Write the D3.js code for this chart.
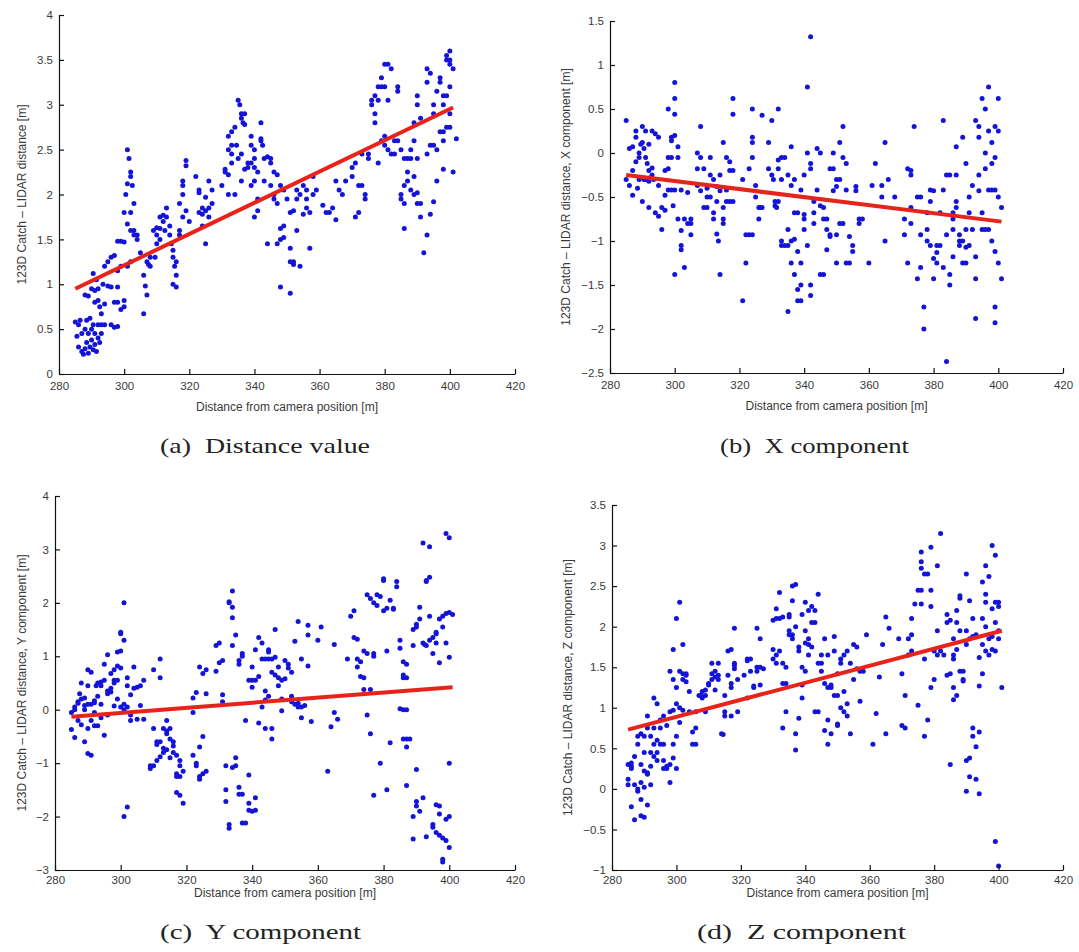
<!DOCTYPE html>
<html>
<head>
<meta charset="utf-8">
<script src="https://cdn.jsdelivr.net/npm/d3@7"></script>
<style>
  html, body { margin: 0; padding: 0; background: #fff; }
  svg { display: block; }
  .axis path, .axis line { stroke: #111; stroke-width: 1.2; }
  .axis .tick text { font-family: "Liberation Sans", Arial, sans-serif; font-size: 11.5px; fill: #3a3a3a; }
  .axis-label { font-family: "Liberation Sans", Arial, sans-serif; font-size: 12px; fill: #3a3a3a; }
  .caption { font-family: "Liberation Serif", serif; font-size: 22px; fill: #222; }
</style>
</head>
<body>
<svg id="chart" width="1079" height="952"></svg>
<script>
// shared x axis
const xDomain = [280, 420];
const xTicks = [280, 300, 320, 340, 360, 380, 400, 420];
const xLabel = 'Distance from camera position [m]';

// y ticks per panel
const yTicksDistance = [0, 0.5, 1, 1.5, 2, 2.5, 3, 3.5, 4];
const yTicksX = [-2.5, -2, -1.5, -1, -0.5, 0, 0.5, 1, 1.5];
const yTicksY = [-3, -2, -1, 0, 1, 2, 3, 4];
const yTicksZ = [-1, -0.5, 0, 0.5, 1, 1.5, 2, 2.5, 3, 3.5];

const captions = ['(a)  Distance value', '(b)  X component', '(c)  Y component', '(d)  Z component'];
const yLabels = [
    '123D Catch \u2013 LIDAR distance [m]',
    '123D Catch \u2013 LIDAR distance, X component [m]',
    '123D Catch \u2013 LIDAR distance, Y component [m]',
    '123D Catch \u2013 LIDAR distance, Z component [m]'
];

// linear fits (start / end)
const fitDistance = [[285, 0.95], [401, 2.97]];
const fitX = [[285, -0.25], [401, -0.78]];
const fitY = [[285, -0.13], [401, 0.42]];
const fitZ = [[285, 0.73], [401, 1.95]];

// [distance from camera, difference]
const distanceValue = [
    [285,0.58],[285.5,0.42],[286,0.55],[286,0.3],[286.5,0.6],[287,0.25],[287,0.45],[287.5,0.22],[288,0.28],[288,0.5],
    [288.5,0.6],[288.5,0.35],[289,0.23],[289,0.45],[289.5,0.62],[289.5,0.3],[290,0.5],[290,0.38],[290.5,0.27],[290.5,0.55],
    [291,0.45],[291,0.33],[291.5,0.25],[292,0.4],[292,0.55],[292.5,0.35],[293,0.45],[293,0.55],[289,0.87],[290,0.95],
    [290.5,1.12],[291,0.8],[291.5,1.05],[292,0.95],[292.5,0.75],[293,0.67],[293.5,1.0],[294,0.55],[288,0.88],[291,0.93],
    [292,0.82],[294,1.2],[295,1.25],[296,1.3],[297,1.32],[295,0.98],[296,0.97],[294,0.78],[297,0.8],[298,0.8],
    [296,0.55],[297,0.52],[298,0.53],[298,1.48],[299,1.48],[300,1.47],[298,1.15],[299,1.2],[300,0.75],[299,0.72],
    [300,0.82],[298,0.97],[300,1.8],[300.5,2.0],[301,2.12],[301,2.5],[301.5,2.4],[302,2.25],[302,2.2],[302.5,2.1],
    [302,1.8],[303,1.9],[301,1.67],[302,1.6],[303,1.55],[304,1.55],[304,1.5],[303,1.6],[305,1.35],[301,1.2],
    [302,1.25],[306,1.1],[306.5,0.98],[307,0.88],[306,0.67],[307,1.25],[308,1.2],[308,1.3],[307.5,1.22],[309,1.6],
    [310,1.63],[310,1.55],[311,1.5],[311,1.75],[312,1.77],[312,1.7],[313,1.75],[310,1.45],[309.5,1.3],[311,1.62],
    [312.5,1.6],[313,1.85],[314,1.65],[314,1.55],[315,1.38],[315,1.3],[315.5,1.2],[316,1.1],[315,1.0],[316,0.97],
    [316,1.25],[314.5,1.45],[317,1.6],[317,1.55],[317,1.9],[318,2.1],[318,2.15],[318,2.0],[319,2.38],[319,2.32],
    [318,1.75],[319,1.82],[320,1.7],[322,2.2],[323,2.05],[323,2.02],[323,1.8],[324,1.78],[324,1.65],[325,1.45],
    [325,1.97],[326,1.85],[326,2.15],[327,2.05],[327,1.9],[326,1.75],[325,1.82],[324,1.85],[330,2.1],[331,2.25],
    [332,2.22],[332,2.5],[332,2.65],[333,2.7],[333,2.55],[333,2.45],[333,2.35],[332,2.0],[334,2.75],[334,2.0],
    [331,2.28],[335,3.05],[335.5,3.0],[336,2.9],[336,2.85],[336.5,2.8],[337,2.9],[337,2.78],[336,2.45],[335,2.4],
    [334.5,2.55],[336,2.15],[337,2.28],[338,2.35],[338,2.3],[339,2.35],[339,2.55],[339,2.65],[340,2.5],[340,2.4],
    [340,2.3],[340,2.15],[339,2.1],[340,1.75],[341,1.82],[341,2.25],[342,2.6],[342,2.62],[342,2.8],[342.5,2.55],
    [341,1.95],[343,2.15],[343,2.4],[344,2.42],[345,2.4],[345,2.35],[344,1.45],[345,2.1],[346,2.0],[346,2.25],
    [347,2.22],[347,1.9],[348,2.1],[348,1.5],[348,1.62],[349,1.65],[349,1.52],[348,0.97],[347,1.45],[349,2.05],
    [346,1.95],[350,1.95],[351,1.8],[351,1.4],[351,1.25],[352,1.25],[352,1.22],[351,0.9],[352,1.82],[353,1.6],
    [353,1.95],[354,2.0],[354,1.2],[353,2.05],[355,1.78],[355,2.1],[356,1.95],[356,1.85],[357,1.8],[357,1.4],
    [358,2.0],[358,2.2],[359,2.05],[356,2.05],[361,1.88],[362,1.8],[363,1.8],[364,1.85],[365,2.15],[365,1.72],
    [366,2.05],[367,2.0],[368,2.15],[370,2.3],[370,2.2],[371,1.75],[372,1.8],[372,2.1],[373,2.1],[374,2.0],
    [374,1.95],[371,2.35],[373,2.45],[375,2.45],[375,2.4],[376,3.05],[376,3.0],[377,3.1],[377,2.9],[377,2.8],
    [378,3.2],[378,3.05],[379,3.3],[379,3.2],[380,3.45],[380,3.2],[378,2.35],[379,2.6],[380,2.65],[380,2.55],
    [381,2.5],[381,3.45],[381,3.05],[382,3.4],[382,2.45],[383,2.6],[383,2.45],[384,3.15],[384,3.2],[384,2.6],
    [385,2.5],[385,1.95],[386,1.9],[386,1.62],[385,2.0],[386,2.4],[387,2.4],[387,2.25],[386,2.1],[387,2.15],
    [388,2.05],[388,2.5],[388,2.4],[389,2.8],[389,2.6],[390,3.0],[390,3.1],[390,2.4],[389,2.2],[390,1.9],
    [391,1.75],[391,2.85],[391,1.9],[392,1.35],[390,2.02],[389,2.0],[393,3.4],[393,3.25],[394,3.35],[394,2.55],
    [393,1.55],[394,1.78],[395,2.9],[395,3.0],[395,2.55],[396,3.15],[396,2.5],[395,1.92],[396,2.15],[393,2.45],
    [397,3.25],[397,3.3],[398,3.0],[398,2.28],[398,2.7],[398,2.6],[399,3.5],[399,3.55],[399,3.1],[399,2.75],
    [400,3.6],[400,3.5],[400,3.45],[400,3.2],[400,2.9],[401,3.4],[401,2.25],[402,2.62],[397,2.7],[398,3.1],[400,2.75]
];

const xComponent = [
    [285,0.37],[285,-0.3],[286,-0.37],[286,0.05],[287,0.07],[287,-0.48],[287,-0.2],[288,0.18],[288,-0.1],[288,0.25],
    [288.5,-0.4],[289,0.0],[289,-0.05],[289,-0.3],[290,0.3],[290,0.12],[290,-0.55],[290.5,0.05],[291,0.25],[291,-0.05],
    [291,-0.3],[291.5,-0.12],[292,-0.2],[292,0.1],[292,-0.62],[292.5,-0.28],[293,0.25],[293,-0.25],[293.5,-0.3],[294,0.22],
    [294,-0.68],[295,-0.72],[295,0.18],[295,-0.37],[296,-0.87],[296,-0.62],[297,-0.48],[297,-0.65],[289.5,0.1],[290.5,-0.3],
    [292,-0.32],[293,-0.17],[297,-0.2],[298,0.5],[298,-0.05],[299,-0.05],[299,-0.42],[299,0.14],[299.5,-0.6],[300,0.2],
    [300,0.44],[300,0.62],[300,0.8],[300,-0.42],[300,-1.38],[301,0.07],[301,-0.75],[301,-0.05],[302,-1.1],[302,-1.05],
    [302,-0.88],[302,-0.42],[303,-0.75],[303,-1.3],[304,-0.45],[304,-0.8],[305,-0.8],[305,-0.93],[305,-0.75],[298,-0.42],
    [298,-0.18],[299,0.18],[307,0.0],[307,-0.18],[307,-0.37],[308,0.3],[308,-0.05],[308,-0.43],[309,-0.18],[309,-0.62],
    [310,-0.5],[310,-0.62],[310,-0.4],[311,-0.05],[311,-0.25],[311,-0.5],[312,-0.68],[312,-0.75],[312,-0.3],[313,-0.38],
    [313,-0.55],[313,-0.92],[313.5,-1.0],[314,-0.25],[314,-1.38],[314,-0.43],[315,-0.62],[315,-0.75],[315,-0.8],[315,0.12],
    [316,-0.55],[316,-0.42],[316,-0.05],[317,-0.2],[317,-0.55],[317,-0.1],[318,0.44],[318,0.62],[318,-0.2],[318,-0.55],
    [321,-0.3],[321,-1.68],[322,-1.25],[322,-0.93],[323,-0.93],[323,-0.18],[324,0.12],[324,-0.05],[324,-0.93],[324,0.5],
    [324,0.18],[325,-0.5],[325,-0.37],[326,-0.62],[326,-0.75],[326.5,-0.62],[327,0.43],[327,-0.62],[329,-0.18],[329,0.12],
    [330,0.37],[330,-0.25],[330.5,-0.3],[331,-0.6],[331.5,-0.62],[331,-0.55],[332,0.5],[332,-0.08],[332,-0.18],[332,-0.55],
    [333,-1.05],[333,-1.0],[333,-0.05],[333,-0.3],[334,-0.05],[334,-1.05],[335,-0.87],[335,-1.05],[335,-1.8],[335,-0.25],
    [336,0.07],[336,-0.37],[336,-1.0],[336,-1.25],[337,-0.3],[337,-0.68],[337,-1.38],[337,-0.98],[338,-1.55],[338,-1.68],
    [338,-1.12],[338,-0.68],[339,-1.68],[339,-1.5],[339,-1.25],[339,-0.42],[340,-0.75],[340,-0.87],[340,-0.7],[340,-0.25],
    [341,-1.05],[341,0.0],[341,0.75],[342,1.32],[342,-0.12],[342,-0.18],[342,-1.5],[342,-1.62],[343,-0.8],[343,-0.68],
    [343,-0.55],[344,-0.42],[344,0.05],[345,0.0],[345,-0.6],[345,-1.38],[346,-1.38],[346,-0.75],[346,-0.62],[347,-0.87],
    [347,-0.75],[347,-1.1],[348,-0.95],[348,-0.18],[348,-0.93],[349,-0.18],[349,0.0],[349,-0.43],[350,-0.3],[350,-0.38],
    [350,-0.93],[350,-1.25],[351,-0.8],[351,-0.3],[351,0.12],[352,0.3],[352,-0.8],[352,-0.05],[353,-0.12],[353,-1.25],
    [353,-0.42],[354,-0.95],[354,-1.25],[355,-1.05],[355,-1.12],[356,-0.38],[356,-0.43],[357,-0.8],[357,-0.75],[358,-0.75],
    [360,-1.25],[361,-0.37],[362,-0.12],[364,-0.37],[364,-0.5],[365,0.12],[365,-1.0],[366,-0.3],[368,-0.5],[371,-0.75],
    [371,-0.93],[372,-1.25],[372,-0.18],[373,-0.2],[373,-0.25],[373,-0.62],[373,-0.8],[374,0.3],[375,-0.5],[375,-1.43],
    [376,-1.3],[376,-0.5],[376,-0.93],[377,-1.75],[377,-2.0],[378,-0.68],[378,-0.87],[378,-1.0],[379,-1.05],[379,-0.55],
    [379,-0.42],[380,-1.2],[380,-1.43],[380,-0.43],[381,-1.13],[381,-1.25],[381,-1.05],[382,-1.05],[382,-0.68],[383,-1.3],
    [383,-0.42],[383,0.37],[384,-2.37],[384,-0.93],[384,-0.25],[385,-1.5],[385,-1.38],[385,-0.25],[386,-1.18],[386,-0.87],
    [386,-0.75],[386,-0.68],[387,-0.25],[387,0.07],[387,-0.62],[387,-0.55],[388,-0.93],[388,-1.0],[388,-1.05],[389,-1.25],
    [389,-1.0],[389,0.18],[390,-0.87],[390,-1.07],[390,-0.12],[390,-1.25],[391,-0.68],[391,-1.05],[391,-0.5],[392,-0.37],
    [392,-0.87],[393,0.37],[393,-1.18],[393,-1.43],[393,-1.88],[394,-0.25],[394,0.18],[394,0.3],[394,-0.43],[395,0.62],
    [395,-0.87],[395,-0.68],[396,-0.18],[396,0.0],[396,0.5],[396,-0.87],[397,0.75],[397,0.25],[397,-0.42],[397,-0.87],
    [398,-1.0],[398,-0.12],[398,0.12],[398,-0.42],[399,0.3],[399,-0.05],[399,-0.42],[399,-1.12],[399,-1.75],[399,-1.93],
    [400,0.62],[400,0.25],[400,-1.25],[400,-0.5],[401,-0.62],[401,-1.43]
];

const yComponent = [
    [285,-0.37],[285,-0.05],[286,0.05],[286,-0.52],[286,0.0],[287,0.12],[287,-0.2],[287,0.15],[288,0.5],[288,-0.28],
    [288,0.2],[289,0.22],[289,-0.6],[289,0.0],[289,0.08],[290,0.1],[290,-0.35],[290,0.75],[290,0.45],[290,-0.82],
    [291,0.7],[291,0.1],[291,-0.85],[291,-0.2],[292,0.17],[292,-0.3],[292,0.13],[292,-0.05],[293,-0.3],[293,0.25],
    [293,0.5],[294,0.45],[294,0.52],[294,-0.15],[295,0.55],[295,-0.48],[295,0.85],[296,0.3],[296,0.35],[296,1.03],
    [296,-0.1],[297,0.68],[297,0.4],[297,0.33],[298,0.55],[298,0.5],[298,0.07],[298,0.75],[299,0.55],[299,0.2],
    [299,1.08],[299,0.82],[300,1.1],[300,0.78],[300,1.45],[300,0.05],[300,1.42],[301,1.3],[301,2.0],[301,0.1],
    [301,0.0],[301,-2.0],[302,-1.82],[302,0.6],[302,0.45],[302,0.05],[303,-0.1],[303,-0.2],[303,0.28],[304,0.8],
    [304,0.4],[305,0.42],[305,-0.18],[306,0.08],[306,0.45],[307,0.55],[307,-0.18],[287.5,0.3],[292.5,0.45],[294,0.1],
    [309,-1.05],[309,-1.1],[310,-1.05],[310,0.75],[310,-0.35],[311,-0.6],[311,-0.65],[311,-0.95],[312,-0.88],[312,0.95],
    [312,0.6],[312,-0.6],[313,-0.35],[313,-0.72],[313,-0.8],[314,-0.75],[314,-0.4],[314,-0.2],[314,-0.45],[315,-0.55],
    [315,-0.9],[315,-0.35],[316,-0.68],[316,-0.6],[316,-0.8],[317,-0.85],[317,-1.2],[317,-1.25],[317,-1.55],[318,-1.6],
    [318,-1.25],[318,-1.05],[319,-1.15],[319,-1.75],[318,-0.95],[322,0.22],[322,-0.05],[322,-0.85],[323,0.32],[323,-1.05],
    [323,-1.0],[324,-1.3],[324,-1.25],[324,-0.7],[324,0.8],[325,-0.5],[325,0.68],[325,-1.2],[326,0.3],[326,0.75],
    [326,-1.15],[329,1.2],[329,0.72],[330,1.25],[330,0.88],[331,0.28],[331,0.92],[331,0.15],[332,-1.05],[332,-1.5],
    [332,-1.72],[333,-2.22],[333,-2.15],[333,2.02],[333,2.0],[334,2.22],[334,1.92],[334,1.72],[334,1.2],[334,-1.08],
    [335,-0.9],[335,1.4],[335,-1.05],[336,0.92],[336,0.85],[336,-1.45],[336,-1.58],[337,1.0],[337,-1.58],[337,-2.12],
    [337,1.05],[338,-2.12],[338,-0.2],[339,-1.88],[339,0.55],[339,-1.22],[339,-1.75],[340,0.42],[340,0.8],[340,0.55],
    [340,-1.9],[341,-1.88],[341,1.12],[341,0.55],[341,-1.65],[342,1.35],[342,0.62],[342,-0.25],[343,0.95],[343,0.05],
    [343,1.25],[344,0.35],[344,0.95],[344,0.18],[344,-0.35],[345,1.12],[345,1.08],[345,0.25],[345,0.95],[346,0.7],
    [346,-0.55],[346,-0.35],[346,0.95],[347,0.98],[347,1.5],[347,0.65],[348,0.6],[348,0.45],[348,0.8],[349,0.55],
    [349,0.2],[349,-0.02],[350,0.92],[350,0.58],[351,0.85],[351,0.78],[352,0.15],[352,0.7],[352,0.25],[353,1.28],
    [353,0.1],[354,1.65],[354,0.12],[354,0.05],[355,0.95],[355,-0.15],[355,0.05],[356,0.08],[357,1.58],[357,1.4],
    [357,0.82],[358,-0.22],[360,1.3],[361,1.55],[363,-1.15],[364,-0.32],[365,-0.05],[365,1.22],[366,-0.18],[369,0.95],
    [370,1.75],[371,1.85],[371,1.35],[372,1.32],[372,0.95],[372,0.8],[373,0.62],[373,0.9],[374,0.6],[374,1.1],
    [374,0.38],[375,2.15],[375,1.05],[375,-0.1],[376,0.38],[376,-0.45],[376,2.08],[377,1.05],[377,1.0],[377,2.0],
    [377,-1.6],[378,2.15],[378,1.95],[379,2.12],[379,-1.0],[380,2.42],[380,2.45],[380,1.85],[381,1.9],[381,-1.5],
    [381,1.1],[382,2.05],[382,-0.62],[383,1.9],[383,1.88],[384,2.4],[384,2.3],[385,0.02],[385,1.3],[385,1.15],
    [386,0.0],[386,0.6],[386,0.65],[386,-0.55],[386,0.9],[387,-0.55],[387,0.6],[387,-0.7],[387,-1.42],[387,0.0],
    [387,0.85],[388,-0.55],[389,1.2],[389,1.5],[389,-2.0],[389,-2.42],[390,-1.12],[390,1.6],[390,1.55],[390,-1.72],
    [390,-1.8],[391,-1.9],[391,1.92],[391,1.7],[392,3.12],[392,1.25],[392.5,1.22],[392,-1.65],[393,2.4],[393,2.42],
    [393,-2.38],[393,1.2],[394,3.05],[394,2.48],[394,1.75],[394,1.3],[395,1.35],[395,1.05],[395,-2.15],[395,-2.2],
    [396,1.45],[396,1.42],[396,-1.78],[396,-2.3],[396,1.25],[397,1.7],[397,0.88],[397,-1.8],[397,-1.95],[397,-2.35],
    [398,1.55],[398,1.75],[398,-2.8],[398,-2.85],[398,-2.4],[399,3.3],[399,1.8],[399,1.25],[399,-2.05],[399,-2.45],
    [400,3.22],[400,1.82],[400,0.98],[400,-1.0],[400,-2.58],[400,-2.0],[401,1.78]
];

const zComponent = [
    [285,0.3],[285,0.12],[285,0.05],[286,0.28],[286,0.25],[286,-0.22],[286,0.32],[287,0.4],[287,0.05],[287,-0.38],
    [288,0.65],[288,0.55],[288,-0.03],[288,0.0],[289,0.68],[289,0.3],[289,0.08],[289,-0.33],[289,-0.13],[290,0.65],
    [290,0.45],[290,0.22],[290,-0.35],[290,0.02],[291,0.9],[291,0.75],[291,0.2],[291,-0.2],[291,0.18],[292,0.65],
    [292,0.45],[292,0.28],[292,0.05],[293,0.55],[293,0.4],[293,0.75],[293,1.12],[294,1.05],[294,0.6],[294,0.45],
    [294,0.35],[295,0.55],[295,0.75],[295,0.85],[296,0.35],[296,0.55],[296,0.25],[296,0.9],[297,0.25],[297,0.28],
    [297,0.78],[298,0.08],[298,1.45],[298,0.3],[298,0.95],[299,1.72],[299,1.35],[299,0.38],[299,0.55],[299,0.97],
    [300,1.25],[300,2.1],[300,0.65],[300,1.05],[300,0.25],[301,1.45],[301,2.3],[301,1.0],[301,0.82],[302,1.78],
    [302,1.42],[302,1.35],[302,0.97],[303,1.4],[303,1.32],[303,1.42],[304,1.2],[304,0.95],[305,0.55],[305,0.7],
    [306,0.55],[306,0.95],[306,0.75],[307,1.15],[307.5,1.15],[308,1.12],[308,1.2],[309,1.15],[309,1.22],[309,0.95],
    [310,1.28],[310,1.3],[311,1.42],[311,1.55],[311,1.35],[312,1.45],[312,1.38],[312,1.22],[313,1.55],[313,1.4],
    [313,1.35],[314,0.68],[314.5,0.67],[315,0.9],[315,1.15],[315,0.95],[316,1.4],[316,1.7],[317,1.72],[317,1.3],
    [317,1.25],[317,0.9],[318,1.52],[318,1.98],[318,1.48],[318,1.55],[319,0.95],[319,1.35],[321,1.4],[322,1.58],
    [322,1.6],[322,1.12],[323,1.45],[323,1.6],[324,1.27],[324,1.25],[325,1.98],[325,1.5],[325,1.45],[326,1.85],
    [326,1.28],[326,1.5],[327,1.48],[330,1.72],[330,1.6],[330,2.08],[331,2.1],[331,2.22],[331,1.55],[331,1.65],
    [332,2.42],[332,2.1],[332,1.7],[333,2.12],[333,1.55],[333,1.3],[333,0.75],[334,1.3],[334,0.95],[334,1.5],
    [335,2.12],[335,1.9],[335,1.95],[335,2.15],[336,2.5],[336,2.32],[336,1.85],[336,1.9],[337,2.52],[337,2.0],
    [337,0.68],[337,0.48],[338,1.7],[338,1.75],[338,0.87],[339,2.15],[339,1.28],[339,1.12],[339,1.5],[340,1.95],
    [340,1.8],[340,2.3],[340,1.45],[341,1.78],[341,1.85],[341,2.2],[341,1.65],[342,2.05],[342,2.25],[342,1.75],
    [343,2.2],[343,0.95],[343,2.05],[344,2.4],[344,0.95],[344,1.55],[345,1.45],[345,1.55],[345,1.65],[346,1.85],
    [346,1.3],[346,0.72],[347,0.55],[347,1.25],[347,1.65],[347,0.85],[348,1.25],[348,0.68],[348,1.28],[349,1.88],
    [349,1.7],[349,1.15],[350,1.15],[350,0.8],[350,0.78],[350,1.42],[351,1.55],[351,1.6],[351,1.0],[352,1.2],
    [352,0.95],[352,1.65],[353,0.9],[353,1.05],[353,1.7],[354,0.68],[354,1.55],[355,1.78],[355,1.35],[356,1.75],
    [356,1.48],[357,1.08],[357,1.45],[358,1.45],[359,1.9],[361,0.55],[362,0.93],[363,1.38],[364,1.78],[365,2.12],
    [365,0.68],[366,1.98],[369,1.85],[370,1.42],[370,0.78],[371,1.15],[371,0.75],[372,1.85],[372,1.65],[373,1.9],
    [373,1.7],[373,2.1],[374,2.28],[375,2.45],[375,1.03],[376,2.72],[376,2.8],[376,2.92],[376,2.28],[376,2.45],
    [377,0.65],[377,2.65],[377,1.6],[378,0.85],[378,2.65],[379,2.98],[379,2.45],[379,2.25],[379,1.25],[380,1.35],
    [380,1.7],[381,2.75],[381,1.65],[381,1.95],[382,3.15],[382,1.7],[383,1.65],[384,2.15],[384,1.4],[384,2.05],
    [385,0.3],[385,1.42],[385,2.08],[386,1.1],[386,1.65],[386,1.6],[386,1.85],[386,1.25],[387,2.05],[387,2.2],
    [387,1.15],[387,1.72],[388,2.35],[388,1.45],[388,2.38],[388,1.95],[389,1.33],[389,1.35],[389,1.45],[390,2.65],
    [390,1.95],[390,1.78],[390,0.35],[390,-0.03],[391,2.32],[391,1.85],[391,0.38],[391,0.15],[392,2.1],[392,1.88],
    [392,0.75],[392,0.65],[393,0.12],[393,1.9],[393,0.52],[394,0.7],[394,-0.06],[394,1.27],[394,1.62],[395,2.55],
    [395,2.1],[395,1.42],[395,1.78],[396,2.75],[396,2.0],[396,2.4],[396,2.3],[396,1.7],[397,2.62],[397,1.85],
    [397,1.65],[398,3.0],[398,2.22],[398,1.72],[398,1.88],[399,2.88],[399,2.3],[399,2.05],[399,1.7],[399,-0.65],
    [400,2.25],[400,2.3],[400,1.85],[400,-0.95],[401,1.25],[400,1.95]
];

const POINT_COLOR = '#1414d8';
const FIT_COLOR = '#e8231a';

// panel frames (plot area in page pixels)
const panels = [
    { points: distanceValue, fit: fitDistance, yDomain: [0, 4], yTicks: yTicksDistance,
      left: 59, right: 515, top: 15, bottom: 374, labelX: 26, tickPad: 8, xLabelDy: 37,
      captionY: 453, captionX: 160, captionW: 210 },
    { points: xComponent, fit: fitX, yDomain: [-2.5, 1.5], yTicks: yTicksX,
      left: 610, right: 1063, top: 21, bottom: 373, labelX: 570, tickPad: 8, xLabelDy: 37,
      captionY: 453, captionX: 720, captionW: 189 },
    { points: yComponent, fit: fitY, yDomain: [-3, 4], yTicks: yTicksY,
      left: 55, right: 515, top: 496, bottom: 870, labelX: 26, tickPad: 6, xLabelDy: 27,
      captionY: 939, captionX: 160, captionW: 201 },
    { points: zComponent, fit: fitZ, yDomain: [-1, 3.5], yTicks: yTicksZ,
      left: 612, right: 1063, top: 505, bottom: 870, labelX: 572, tickPad: 6, xLabelDy: 27,
      captionY: 939, captionX: 697, captionW: 209 }
];

const svg = d3.select('#chart');

function drawPanel(p, i) {
    const x = d3.scaleLinear().domain(xDomain).range([p.left, p.right]);
    const y = d3.scaleLinear().domain(p.yDomain).range([p.bottom, p.top]);
    const g = svg.append('g').attr('class', 'panel');

    g.selectAll('circle')
        .data(p.points)
        .enter()
        .append('circle')
        .attr('cx', d => x(d[0]))
        .attr('cy', d => y(d[1]))
        .attr('r', 2.5)
        .attr('fill', POINT_COLOR);

    g.append('path')
        .datum(p.fit)
        .attr('d', d3.line().x(d => x(d[0])).y(d => y(d[1])))
        .attr('fill', 'none')
        .attr('stroke', FIT_COLOR)
        .attr('stroke-width', 4)
        .attr('stroke-linecap', 'butt');

    // matlab style: ticks point inward
    g.append('g')
        .attr('class', 'axis')
        .attr('transform', `translate(0,${p.bottom})`)
        .call(d3.axisBottom(x).tickValues(xTicks).tickSizeInner(-5).tickSizeOuter(0)
            .tickPadding(p.tickPad).tickFormat(d3.format('d')));

    g.append('g')
        .attr('class', 'axis')
        .attr('transform', `translate(${p.left},0)`)
        .call(d3.axisLeft(y).tickValues(p.yTicks).tickSizeInner(-5).tickSizeOuter(0)
            .tickPadding(6).tickFormat(d3.format('')));

    g.append('text')
        .attr('class', 'axis-label')
        .attr('x', (p.left + p.right) / 2)
        .attr('y', p.bottom + p.xLabelDy)
        .attr('text-anchor', 'middle')
        .text(xLabel);

    g.append('text')
        .attr('class', 'axis-label')
        .attr('transform', `translate(${p.labelX},${(p.top + p.bottom) / 2}) rotate(-90)`)
        .attr('text-anchor', 'middle')
        .text(yLabels[i]);

    // caption set in a wide serif, stretched to the width of the LaTeX original
    svg.append('text')
        .attr('class', 'caption')
        .attr('x', p.captionX)
        .attr('y', p.captionY)
        .attr('textLength', p.captionW)
        .attr('lengthAdjust', 'spacingAndGlyphs')
        .style('white-space', 'pre')
        .text(captions[i]);
}

panels.forEach(drawPanel);
</script>
</body>
</html>
